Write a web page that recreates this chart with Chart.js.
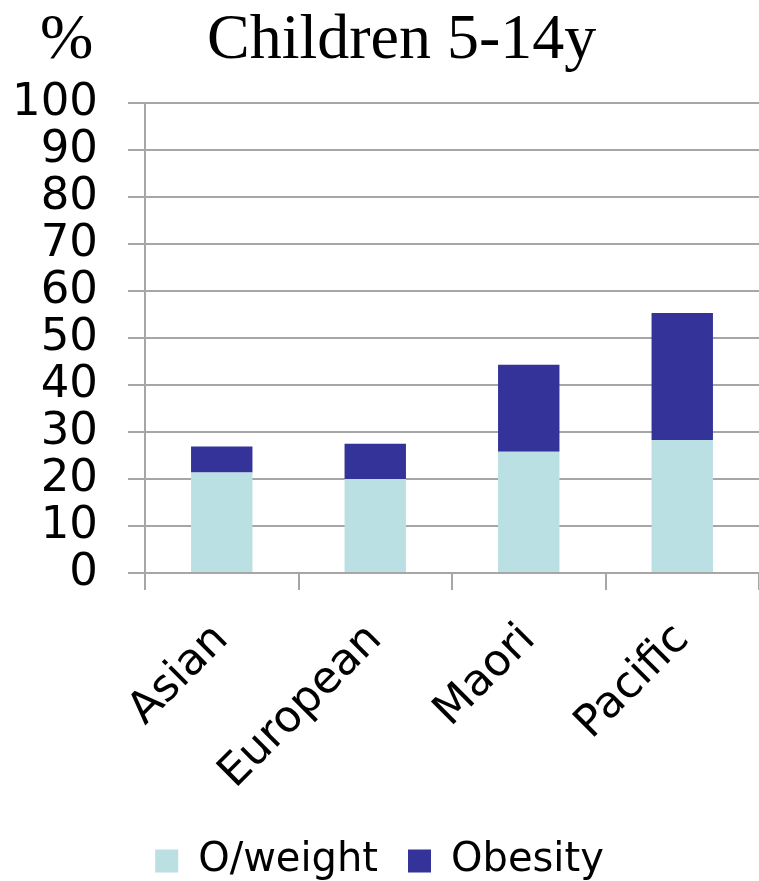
<!DOCTYPE html>
<html>
<head>
<meta charset="utf-8">
<script src="https://cdn.jsdelivr.net/npm/chart.js@4"></script>
<style>
  html, body { margin: 0; padding: 0; background: #fff; }
  #wrap { width: 759px; height: 881px; }
</style>
</head>
<body>
<div id="wrap"><canvas id="graphicChildren"></canvas></div>
<script>
const groups = ['Asian', 'European', 'Maori', 'Pacific'];
const overweight = [21.4, 20.0, 25.8, 28.3];
const obesity = [5.5, 7.5, 18.5, 27.0];
const yTicks = [0, 10, 20, 30, 40, 50, 60, 70, 80, 90, 100];

const gridGrey = '#a6a6a6';
const sansFont = '"DejaVu Sans", Verdana, sans-serif';

// título em serifa + "%" no canto
const headerText = {
  id: 'headerText',
  afterDraw(chart) {
    const ctx = chart.ctx;
    ctx.save();
    ctx.fillStyle = '#000';
    ctx.font = '64px "Liberation Serif", "Times New Roman", serif';
    ctx.textBaseline = 'alphabetic';
    ctx.textAlign = 'left';
    ctx.fillText('%', 40, 58);
    ctx.fillText('Children 5-14y', 207, 58);
    ctx.restore();
  }
};

new Chart(document.getElementById('graphicChildren'), {
  type: 'bar',
  data: {
    labels: groups,
    datasets: [
      {
        label: 'O/weight',
        data: overweight,
        backgroundColor: '#bbe0e3',
        borderWidth: 0,
        categoryPercentage: 0.8,
        barPercentage: 0.5
      },
      {
        label: 'Obesity',
        data: obesity,
        backgroundColor: '#333399',
        borderWidth: 0,
        categoryPercentage: 0.8,
        barPercentage: 0.5
      }
    ]
  },
  options: {
    responsive: true,
    maintainAspectRatio: false,
    animation: false,
    layout: { padding: { top: 103, left: 0, right: 0, bottom: -10 } },
    plugins: {
      tooltip: { enabled: false },
      title: { display: false },
      legend: {
        position: 'bottom',
        labels: {
          boxWidth: 23,
          boxHeight: 23,
          padding: 30,
          color: '#000',
          font: { family: sansFont, size: 40 }
        }
      }
    },
    scales: {
      x: {
        stacked: true,
        afterFit(scale) { scale.height = 238; },
        ticks: {
          color: '#000',
          maxRotation: 45,
          minRotation: 45,
          padding: 24,
          font: { family: sansFont, size: 44 }
        },
        grid: {
          drawOnChartArea: false,
          color: gridGrey,
          lineWidth: 2,
          tickLength: 17
        },
        border: { color: gridGrey, width: 2 }
      },
      y: {
        stacked: true,
        min: 0,
        max: 100,
        afterFit(scale) { scale.width = 145; },
        afterBuildTicks(scale) { scale.ticks = yTicks.map(v => ({ value: v })); },
        ticks: {
          color: '#000',
          autoSkip: false,
          padding: 30,
          font: { family: sansFont, size: 45 }
        },
        grid: {
          color: gridGrey,
          lineWidth: 2,
          tickLength: 17
        },
        border: { color: gridGrey, width: 2 }
      }
    }
  },
  plugins: [headerText]
});
</script>
</body>
</html>
